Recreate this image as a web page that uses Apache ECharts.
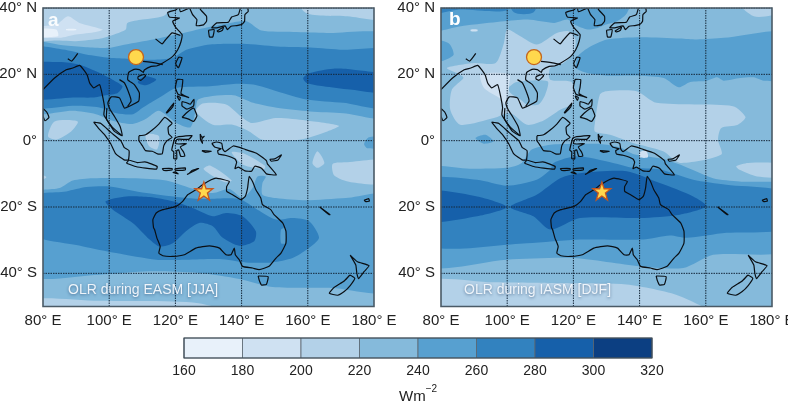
<!DOCTYPE html>
<html><head><meta charset="utf-8">
<style>html,body{margin:0;padding:0;background:#fff}#c{width:788px;height:402px}</style>
<script src="https://cdn.jsdelivr.net/npm/echarts@6/dist/echarts.min.js"></script>
</head><body><div id="c"></div>
<script>
const levels=[160,180,200,220,240,260,280,300,320];
const levelColors=['#e8f1fa','#cfe1f2','#b3d1e8','#85badb','#57a0d0','#3282bf','#1660aa','#0c3f82'];
const lonTicks=[80,100,120,140,160,180];
const latTicks=[40,20,0,-20,-40];
const lonRange=[80,180];
const latRange=[-50,40];
const frameBox=[[80,40],[180,40],[180,-50],[80,-50]];

// panel a: OLR contour regions (lon, lat)
const a240n=[[80,29.5],[86,28.8],[93,28.2],[100,28],[105,29],[113.2,30.5],[120.3,32],[129.8,34.2],[136.5,35.5],[141.5,36],[146,33.2],[155.6,32.8],[165.7,32.5],[180,31.5],[180,7.3],[170.7,8.3],[160.7,8.8],[150.6,9.9],[143.5,11.4],[137.5,13.7],[127,12.5],[126,8.5],[124.5,4],[120,5.5],[115,9],[111,6.5],[107,5],[101,6],[96,8],[89,9],[80,8.5]];
const a240s=[[80,-16.3],[85,-14.3],[89,-12],[95,-11.3],[107.1,-11.3],[117.2,-12],[126.2,-14.8],[131.3,-15.8],[136.3,-14.6],[140.3,-17.3],[143.3,-14.3],[144.8,-10.8],[147.3,-10.8],[146.3,-12.8],[146.3,-16.3],[150.4,-17.3],[159.4,-18],[171.5,-17.3],[180,-16.6],[180,-45.1],[167.4,-44.4],[149.3,-44.1],[139.3,-41.7],[127.2,-39.9],[112.2,-39.4],[97.1,-40.4],[80,-40.4]];
const a240e=[[177,-1],[178.5,1],[180,1],[180,-2],[178,-2.3]];
const a260n=[[80,28],[86,27.5],[93,26],[100,25],[106,24.7],[113.2,24.4],[119.3,25],[123.3,27.4],[130.45,29],[140.5,29.2],[150.6,28.4],[160.7,28.1],[170.7,27.4],[180,27],[180,10],[170.7,11.4],[159.7,12.4],[150.6,14.9],[143.5,16.9],[137.5,17.1],[130.45,16.4],[120.3,15.9],[115.2,13],[110.2,10],[107.2,8],[102.2,8.3],[97,10],[90,10.5],[80,10.5]];
const a260s=[[80,-17],[87,-15.3],[93.1,-14],[100.1,-13.8],[111.2,-15.8],[123.2,-17.3],[129.2,-17.6],[139.3,-17.6],[144.8,-20.8],[150.4,-23.8],[155.4,-23.3],[160.4,-24.3],[163.4,-29.3],[159.9,-32.7],[155.4,-35.4],[149.3,-36.7],[141.3,-36.7],[133.3,-35.7],[123.2,-35.9],[114.2,-35.9],[102.1,-33.9],[92.1,-31.9],[80,-27.8]];
const a240slit=[[151.9,-26.8],[153.2,-26.3],[153.2,-30.9],[151.9,-30.9]];
const a280w=[[80,22.9],[85,23.7],[91,22.9],[96,20.9],[101,18.4],[104,16.4],[102.6,14.4],[99,13.7],[95,13],[90,13],[80,13]];
const a280c=[[109,18.4],[111,19.4],[114.2,18.4],[111,16.7],[108.7,17.4]];
const a280e=[[158.6,18.9],[160.6,20.4],[167.7,21.7],[173.8,21.4],[180,19.4],[180,14.4],[172.7,15.4],[164.7,16.4],[159.7,17.4]];
const a280s=[[98.9,-18.3],[105.1,-16.8],[112.2,-17],[119.2,-18.3],[125.2,-20.3],[131.3,-22.8],[135.3,-21.8],[140.3,-22.8],[144.3,-27.3],[143.8,-30.3],[139.3,-31.7],[134.3,-29.3],[131.3,-25.8],[127.2,-24.8],[123.2,-27.3],[119.2,-30.9],[115.2,-31.9],[112.2,-29.8],[107.1,-24.8],[101.1,-20.8]];
const a200nw=[[80,40],[120,40],[117,38],[110,36.5],[105.5,35.5],[105,33.5],[101.5,32],[97.5,30.8],[90,30],[85,30.2],[80,30.8]];
const a200ne=[[155.6,40],[159.5,38.5],[172,37.5],[180,36.5],[180,40]];
const a200eq=[[126.2,8.8],[128.2,11.2],[135.3,10.9],[139.8,7.3],[143.2,5.3],[150.3,6.8],[159.4,6.1],[169.4,4.5],[165.9,2.8],[157.4,0.3],[146.3,0.3],[142.3,2.8],[137.3,4.8],[131.3,4.8]];
const a200w=[[81.5,1.3],[83.5,5.8],[90.5,5.8],[88.5,2.8],[84,0.3]];
const a200bo=[[111,1.9],[115,1.4],[114.5,-2.6],[112,-1.6]];
const a200d=[[161.4,-6.7],[162.9,-3.2],[165,-6.7],[162.9,-8.2]];
const a200f=[[167.5,-7],[172,-6.5],[180,-6],[180,-12.8],[173,-12.5],[168,-10.5]];
const a200g=[[128.5,-8.5],[130.5,-7.5],[137,-12],[135,-12.5],[131,-10.5]];
const a200h=[[137,-3.5],[141,-4],[147,-7.5],[147,-8.5],[143,-8],[140,-7]];
const a200l=[[80,-9],[81,-11],[80,-13]];
const a200b=[[80,-48],[97,-48.3],[127,-49],[145,-50],[80,-50]];
const a180=[[80,34],[84,35],[87.5,37.5],[91,35.5],[98,33.5],[96,32.8],[90,32],[85,31],[80,31.5]];
const a160a=[[80,33.5],[84,33.5],[84.5,31.5],[80,31.5]];
const a160b=[[87,33.7],[90,33.7],[90,33.3],[87,33.3]];

// panel b: OLR contour regions (lon, lat)
const b240top=[[80,40],[137.7,40],[136.2,38.5],[133.2,36],[129.8,35],[127.3,34],[124.3,33.5],[120.3,35],[118.2,36.5],[114.2,35.5],[106.2,36.5],[99,36],[90,35],[86,34.5],[80,33]];
const b260a=[[80,40],[100,40],[100,39.3],[85,39.5],[80,38]];
const b260b=[[100,40],[109.5,40],[108,38.7],[102,38.7]];
const b240left=[[80,30.5],[82.3,29.4],[83.8,25.9],[80.3,24],[80,24]];
const b240mid=[[130.15,30.5],[140.2,31.2],[152.3,30.8],[157.3,30.5],[165.4,31],[180,32.5],[180,18.7],[177.5,18.1],[174.5,19.1],[170.4,18.9],[165.4,18.1],[163.4,19.1],[160.4,18.1],[155.3,17.7],[151.8,16.1],[147.3,18.9],[140.2,19.6],[130.15,19.6],[124.3,20.4],[120.8,21.9],[121.3,25.4],[124.3,27.9]];
const b240dot=[[90.4,0.8],[93.4,1.8],[95.9,-0.2],[92.9,-0.9]];
const b240s=[[80,-8.7],[89.8,-8.5],[99.9,-8.2],[104.4,-6.7],[107.4,-2.7],[113,-1.2],[120,-1],[128,-1],[134,-2],[138,-4],[147.1,-5.5],[152.2,-7.2],[162.2,-11.3],[170.2,-12.3],[180,-13.8],[180,-32.9],[162.2,-34.4],[153.2,-38.4],[140.1,-37.9],[120,-35.4],[99.9,-35.9],[80,-37.4]];
const b260s=[[80,-12],[90.9,-11.8],[99.9,-13.6],[108.9,-11.8],[113,-8.8],[114,-6.7],[121,-4.7],[132,-6.7],[138,-8.2],[146.1,-8.7],[156.2,-11.8],[166.2,-13.3],[180,-15.8],[180,-26.3],[166.2,-27.8],[154.2,-29.3],[149.1,-28.6],[141.1,-29.8],[122,-29.8],[105.9,-30.9],[80,-31.4]];
const b280w=[[80,-15.3],[90.9,-16.8],[99.9,-20],[90.9,-22.8],[80,-24.3]];
const b280c=[[100.9,-20],[108.9,-16.3],[116,-11.3],[122,-9.8],[136.1,-9.2],[146.1,-12.8],[156.2,-16.8],[160.2,-19.8],[152.2,-22.3],[140.1,-23.3],[122,-23.3],[113,-26.8],[107.9,-22.8]];
const b200big=[[81.8,21.9],[90,23.4],[96.5,23.4],[99,29.4],[100,33.5],[104,31.5],[109,29],[115,32.5],[118.6,33],[120.6,30.5],[120.1,26.4],[117,23.4],[113,21.9],[113,18.4],[119.5,17.6],[120.1,11.4],[116,9.3],[111,6.1],[106,4.8],[101,8.3],[96,6.8],[85.8,4.8],[82.8,9.3],[83.3,15.4],[86.8,18.9],[85.8,19.9]];
const b220hole=[[100.4,15.9],[102.9,17.7],[112.2,17.9],[111.5,13.9],[109.5,10.9],[106,10.9],[104,12.4],[101,14.4]];
const b180a=[[92,19.9],[100.6,20.1],[100.6,16.9],[99.6,10.9],[97.6,12.9],[93,15.9]];
const b180b=[[89,33.5],[91,33.5],[91,33],[89,33]];
const b200eq=[[126.5,5.3],[128,13.9],[130,14.9],[139.1,14.9],[145.1,11.4],[168.2,10.4],[172,7.1],[169.7,4.8],[164.7,3.8],[163.7,0.3],[164.7,-4.2],[152.2,-6.7],[147.1,-3.2],[138.1,-0.7],[131.1,1.8],[126.5,2.8]];
const b180c=[[140,-3.5],[142,-3],[142.5,-5],[140,-5]];
const b200ne=[[167.4,40],[174.5,37.5],[180,39.5],[180,40]];
const b200se=[[169.2,-7.7],[172.8,-6.7],[180,-7.2],[180,-10.8],[175.5,-10.8],[170.2,-8.8]];
const b200b=[[80,-42.4],[95.9,-42.7],[120,-43],[136.1,-43.4],[152.2,-46.9],[166.2,-50],[80,-50]];

// coastlines (lon, lat)
const coastAsia=[[80,15.4],[83.5,18.9],[87,21.4],[89,21.9],[91.1,22.7],[93.3,19.9],[94.1,17.4],[95.3,15.9],[97.1,16.9],[97.9,13.9],[98.6,10],[98.4,7.8],[99.6,5.8],[101.6,2.8],[103.9,1.5],[103.3,4.3],[101.6,7.3],[100.3,9.3],[99.6,11.4],[100.6,13.2],[103.1,12.9],[104.6,9.8],[106.1,10.4],[108.9,11.9],[109.1,14.4],[107.6,16.9],[105.6,18.4],[105.9,20.6],[107.5,21.5],[109.1,21.4],[110.3,20.6],[110.6,21.3],[112.7,22.4],[114.3,22.5],[116.2,23.4],[119.2,25.4],[120.7,27.4],[121.7,29.9],[122,32],[120.2,34],[119.2,36],[121.2,37],[118.2,37.3],[117.7,38.7],[120.2,39.5],[121.7,41]];
const coastLiaodong=[[121.2,41],[121.5,38.9],[124.3,40]];
const coastKorea=[[124.3,40],[125.2,38],[126.5,36.5],[126.3,34.7],[128.5,34.9],[129.4,36],[129.4,37.5],[127.5,39.7],[128.5,41]];
const coastHonshu=[[130.9,34],[132.5,35.5],[136,35.7],[137,37.3],[139,38],[140,41],[141.5,41],[142,39],[141,38],[140.9,36],[140,35],[138.5,34.7],[136.8,34.5],[135.7,33.5],[135,34.6],[132.5,34],[130.9,34]];
const coastKyushu=[[130,33.3],[131.7,33.5],[131.3,31.3],[130.3,31.3],[130,33.3]];
const coastShikoku=[[132.5,33],[134.5,34.2],[134.2,33.3],[133,32.8],[132.5,33]];
const coastTaiwan=[[121,25.2],[122,25],[120.9,22],[120.1,23.2],[121,25.2]];
const coastHainan=[[108.7,19.3],[110.5,20],[111,19.6],[109.6,18.2],[108.7,18.6],[108.7,19.3]];
const coastLanka=[[80,9.7],[81.2,8.5],[81.8,7],[80.6,6],[80,7.5],[80,9.7]];
const coastLuzon=[[120.5,18.5],[122.2,18.4],[122,16],[121.7,14.2],[124,13],[122.5,13.5],[120.8,14],[120,16],[120.5,18.5]];
const coastMindanao=[[122,7],[123.5,8.5],[125.5,9.8],[126.5,7.5],[125.5,5.8],[124,6.5],[122,7]];
const coastVisayas=[[122,11.8],[123.2,11.5],[124.5,11],[125.6,12.5],[125.5,10.5],[123.5,9.5],[122,10.5],[122,11.8]];
const coastMindoro=[[120.5,13.5],[121.5,13],[121.2,12.2],[120.5,13.5]];
const coastPalawan=[[117.2,8.4],[119.5,11.3],[119.2,10.2],[117.5,8.4],[117.2,8.4]];
const coastBorneo=[[109,1.5],[111,1.8],[113,3.2],[115,5],[116.8,7],[119,5.2],[117.8,4],[118,2],[119,1],[117.5,0],[116.5,-1.5],[116,-4],[114.6,-4],[113,-3.2],[111,-3],[110,-1.5],[109,0],[109,1.5]];
const coastSumatra=[[95.3,5.6],[97.5,5.2],[100.5,2.5],[103.5,0],[104.5,-2],[106,-3],[105.8,-5.8],[104.5,-5.8],[102,-4],[100.5,-1],[98.7,1.7],[97,3.5],[95.3,5.6]];
const coastJava=[[105.2,-6.8],[106,-5.9],[108.5,-6.6],[110.8,-6.4],[112.7,-7],[114.5,-7.8],[114.3,-8.6],[111,-8.3],[108,-7.8],[105.2,-6.8]];
const coastSumbawa=[[116,-8.4],[119,-8.4],[119,-8.8],[116.5,-9],[116,-8.4]];
const coastFlores=[[119.8,-8.5],[123,-8.2],[123,-8.8],[120,-8.9],[119.8,-8.5]];
const coastSumba=[[119.2,-9.6],[120.8,-10],[120,-9.4],[119.2,-9.6]];
const coastTimor=[[123.5,-10.2],[127,-8.4],[125,-9],[124,-10],[123.5,-10.2]];
const coastSulawesi=[[119.8,0.8],[121,1.2],[125,1.5],[124,0.4],[120.5,0.4],[120,-0.9],[121,-1],[123.3,-0.9],[121.5,-1.9],[122.5,-3.5],[122.8,-4.7],[121.6,-4.7],[121,-2.8],[120.4,-3],[120.4,-5.5],[119.5,-5.4],[119.5,-3.4],[118.9,-2.8],[119.8,0.8]];
const coastHalmahera=[[127.5,2],[128,1],[128.7,1.3],[128,0.5],[128.2,-0.8],[127.6,0.3],[127.5,2]];
const coastSeram=[[128,-3],[130.8,-3.2],[129,-3.5],[128,-3]];
const coastGuinea=[[131,-0.8],[132.5,-0.4],[134,-0.8],[134.3,-2.5],[135,-3.3],[137.5,-1.6],[141,-2.6],[144.5,-3.8],[147.5,-6],[147.8,-7],[150.5,-10.3],[147.5,-10],[146,-8.3],[144,-7.7],[143,-9.2],[141,-9.1],[139,-8],[138,-8.4],[138.5,-6.5],[138,-5.5],[135,-4.4],[133,-4],[132.8,-3],[133.8,-2.4],[132,-2],[131,-0.8]];
const coastBritain=[[148.5,-5.6],[150,-5.5],[152,-4.3],[151,-5.8],[149,-6.2],[148.5,-5.6]];
const coastAustralia=[[113.4,-26.3],[113.2,-23.8],[114.2,-21.8],[116.2,-20.8],[120.2,-19.8],[122.2,-18.3],[123.7,-16.3],[126.2,-14.8],[128.2,-13.3],[130.8,-11.8],[132.3,-11.3],[136.3,-12.3],[135.5,-13.8],[135.5,-15.3],[137.3,-16.3],[139.8,-17.8],[141.1,-16.8],[141.8,-14.3],[142.3,-10.8],[143.3,-12.3],[144.3,-14.8],[145.8,-17.3],[146.3,-19.3],[148.8,-20.8],[149.8,-22.3],[152.4,-24.8],[153.4,-27.3],[153.4,-30.9],[151.9,-33.9],[150.4,-35.4],[148.3,-37.9],[145.3,-38.9],[143.3,-38.4],[140.3,-37.9],[139.3,-35.9],[138.1,-34.4],[137.8,-32.4],[136.8,-34.4],[135.3,-34.4],[133.3,-32.4],[130.3,-31.7],[126.2,-32.4],[122.7,-34.4],[119.2,-34.9],[116.2,-34.7],[115,-33.9],[115.4,-31.9],[114.4,-29.3],[113.7,-26.8],[113.4,-26.3]];
const coastTasmania=[[145,-40.8],[148,-41],[147.5,-43.3],[146,-43.5],[145.3,-42],[145,-40.8]];
const coastNZS=[[172.7,-40.5],[174.2,-41.5],[172.8,-43.7],[171,-45.5],[169,-46.6],[166.5,-46],[168,-44.2],[171,-42.3],[172.7,-40.5]];
const coastNZN=[[172.8,-34.5],[175,-36.5],[178.5,-37.7],[177,-39.5],[175.3,-41.6],[174.8,-39.9],[174.5,-37.5],[172.8,-34.5]];
const coastCaledonia=[[163.6,-20],[166.7,-22.3],[166.4,-22.3],[163.6,-20]];
const coastFiji=[[177,-18],[178.4,-17.5],[178.6,-18.2],[177.5,-18.4],[177,-18]];
const riverYangtze=[[114,30.7],[116,29.2],[116.7,30],[119,32.5],[121.5,31.7]];
const riverPearl=[[110.2,23.9],[114.2,23.4],[116.2,22.9]];
const riverMekong=[[103.1,18.4],[104.6,17.4],[106.1,13.9],[106.6,11.9],[105.6,10.4]];
const riverMalay=[[99.3,9.8],[99.2,6.5],[101,4],[103.9,1.5]];
const riverBrahma=[[87.5,24.7],[88.7,24],[90.5,26.3]];

const cityPoint=[108.1,25.2];
const starPoint=[128.6,-15.2];
const panelLetters=['a','b'];
const panelTitles=['OLR during EASM [JJA]','OLR during IASM [DJF]'];

const lay=(v,pts)=>({c:levelColors[levels.indexOf(v)],pts});
const layersA=[lay(240,a240s),lay(240,a240n),lay(240,a240e),lay(260,a260n),lay(260,a260s),lay(240,a240slit),lay(280,a280w),lay(280,a280c),lay(280,a280e),lay(280,a280s),
 lay(200,a200nw),lay(200,a200ne),lay(200,a200eq),lay(200,a200w),lay(200,a200bo),lay(200,a200d),lay(200,a200f),lay(200,a200g),lay(200,a200h),lay(200,a200l),lay(200,a200b),
 lay(180,a180),lay(160,a160a),lay(160,a160b)];
const layersB=[lay(240,b240top),lay(260,b260a),lay(260,b260b),lay(240,b240left),lay(240,b240mid),lay(240,b240dot),lay(240,b240s),lay(260,b260s),lay(280,b280w),lay(280,b280c),
 lay(200,b200big),lay(220,b220hole),lay(180,b180a),lay(180,b180b),lay(200,b200eq),lay(180,b180c),lay(200,b200ne),lay(200,b200se),lay(200,b200b)];
const coasts=[coastAsia,coastLiaodong,coastKorea,coastHonshu,coastKyushu,coastShikoku,coastTaiwan,coastHainan,coastLanka,coastLuzon,coastMindanao,coastVisayas,coastMindoro,coastPalawan,coastBorneo,coastSumatra,coastJava,coastSumbawa,coastFlores,coastSumba,coastTimor,coastSulawesi,coastHalmahera,coastSeram,coastGuinea,coastBritain,coastAustralia,coastTasmania,coastNZS,coastNZN,coastCaledonia,coastFiji,riverYangtze,riverPearl,riverMekong,riverMalay,riverBrahma];

const fnt='"Liberation Sans",Arial,sans-serif';
const push=p=>[p[0]<=lonRange[0]?lonRange[0]-5:p[0]>=lonRange[1]?lonRange[1]+5:p[0],p[1]>=latRange[1]?latRange[1]+5:p[1]<=latRange[0]?latRange[0]-5:p[1]];
function panelSeries(i,layers){
  const all=[{c:levelColors[3],pts:frameBox,base:true}].concat(layers);
  return [
   {type:'custom',xAxisIndex:i,yAxisIndex:i,clip:true,z:2,silent:true,
    data:all.map(l=>l.pts[0]),
    renderItem:(p,api)=>{const l=all[p.dataIndex];
      return {type:'polygon',shape:{points:l.pts.map(q=>api.coord(push(q))),smooth:l.base?0:0.25},style:{fill:l.c,stroke:null}};}},
   ...[...lonTicks.slice(1,-1).map(v=>[[v,latRange[0]],[v,latRange[1]]]),...latTicks.map(v=>[[lonRange[0],v],[lonRange[1],v]])].map(d=>(
    {type:'line',xAxisIndex:i,yAxisIndex:i,data:d,symbol:'none',z:3,silent:true,lineStyle:{color:'#16283a',width:1,type:[1.5,1]}})),
   {type:'custom',xAxisIndex:i,yAxisIndex:i,clip:true,z:4,silent:true,
    data:coasts.map(c=>c[0]),
    renderItem:(p,api)=>({type:'polyline',shape:{points:coasts[p.dataIndex].map(q=>api.coord(q)),smooth:0.15},style:{fill:null,stroke:'#0a0f14',lineWidth:1.2}})},
   {type:'custom',xAxisIndex:i,yAxisIndex:i,clip:false,z:6,silent:true,data:[frameBox[0]],
    renderItem:(p,api)=>({type:'polygon',shape:{points:frameBox.map(q=>api.coord(q))},style:{fill:null,stroke:'#4a5a66',lineWidth:1.6}})},
   {type:'scatter',xAxisIndex:i,yAxisIndex:i,data:[cityPoint],symbol:'circle',symbolSize:15,z:7,silent:true,itemStyle:{color:'#ffd84d',borderColor:'#c4661f',borderWidth:1.3,opacity:1}},
   {type:'scatter',xAxisIndex:i,yAxisIndex:i,data:[starPoint],symbol:'path://M50 2 L62 36 L98 36 L69 58 L80 94 L50 73 L20 94 L31 58 L2 36 L38 36 Z',symbolSize:18,z:7,silent:true,itemStyle:{color:'#ffd84d',borderColor:'#c4561f',borderWidth:1.3,opacity:1}}
  ];
}
const panels=[{left:43},{left:441}];
const xAxes=panels.map((p,i)=>({type:'value',gridIndex:i,min:lonRange[0],max:lonRange[1],interval:20,splitLine:{show:false},axisLine:{show:false},axisTick:{show:false},
  axisLabel:{color:'#222',fontSize:15,fontFamily:fnt,margin:7,showMinLabel:true,showMaxLabel:true,hideOverlap:false,formatter:v=>v+'° E'}}));
const yAxes=panels.map((p,i)=>({type:'value',gridIndex:i,min:latRange[0],max:latRange[1],interval:10,splitLine:{show:false},axisLine:{show:false},axisTick:{show:false},
  axisLabel:{customValues:latTicks,color:'#222',fontSize:15,fontFamily:fnt,margin:6,formatter:v=>v>0?v+'° N':v<0?(-v)+'° S':'0°'}}));
const grids=panels.map(p=>({left:p.left,top:8,width:331,height:298.5,containLabel:false,outerBoundsMode:'none'}));
grids.push({left:184,top:338,width:468,height:20,outerBoundsMode:'none'});
xAxes.push({type:'value',gridIndex:2,min:levels[0],max:levels[levels.length-1],interval:20,splitLine:{show:false},axisLine:{show:false},axisTick:{show:false},
  axisLabel:{color:'#222',fontSize:14,fontFamily:fnt,margin:6},
  name:'{a|Wm}{b|−2}',nameLocation:'middle',nameGap:26,nameTextStyle:{rich:{a:{fontSize:15,color:'#222',fontFamily:fnt,verticalAlign:'bottom',lineHeight:16},b:{fontSize:10,color:'#222',fontFamily:fnt,verticalAlign:'top',lineHeight:20}}}});
yAxes.push({type:'value',gridIndex:2,min:0,max:1,show:false});
const barData=levelColors.map((c,i)=>[levels[i],levels[i+1],i]);
const series=[...panelSeries(0,layersA),...panelSeries(1,layersB),
 {type:'custom',xAxisIndex:2,yAxisIndex:2,silent:true,z:2,data:barData,encode:{x:[0,1]},
  renderItem:(p,api)=>{const a=api.coord([api.value(0),1]),b=api.coord([api.value(1),0]);
    return {type:'rect',shape:{x:a[0],y:a[1],width:b[0]-a[0],height:b[1]-a[1]},style:{fill:levelColors[api.value(2)],stroke:'#5a6670',lineWidth:0.8}};}},
 {type:'custom',xAxisIndex:2,yAxisIndex:2,silent:true,z:3,clip:false,data:[[levels[0],0]],
  renderItem:(p,api)=>{const a=api.coord([levels[0],1]),b=api.coord([levels[8],0]);
    return {type:'rect',shape:{x:a[0],y:a[1],width:b[0]-a[0],height:b[1]-a[1]},style:{fill:null,stroke:'#3c4a55',lineWidth:1.2}};}}
];
const txt=(x,y,t,o)=>({type:'text',x,y,z:20,silent:true,style:Object.assign({text:t,fontFamily:fnt,fill:'#fff',textVerticalAlign:'middle'},o)});
const graphic=[
 txt(48,21,panelLetters[0],{fontSize:19,fontWeight:'bold',opacity:.92}),
 txt(449,20,panelLetters[1],{fontSize:19,fontWeight:'bold'}),
 txt(68,290,panelTitles[0],{fontSize:14,fill:'#eef4fa',textShadowColor:'rgba(20,50,90,.55)',textShadowBlur:3,textShadowOffsetY:1}),
 txt(464,290,panelTitles[1],{fontSize:14,fill:'#eef4fa',textShadowColor:'rgba(20,50,90,.55)',textShadowBlur:3,textShadowOffsetY:1})
];
const chart=echarts.init(document.getElementById('c'),null,{renderer:'canvas'});
chart.setOption({animation:false,backgroundColor:'#fff',tooltip:{show:false},grid:grids,xAxis:xAxes,yAxis:yAxes,series,graphic});
</script></body></html>
